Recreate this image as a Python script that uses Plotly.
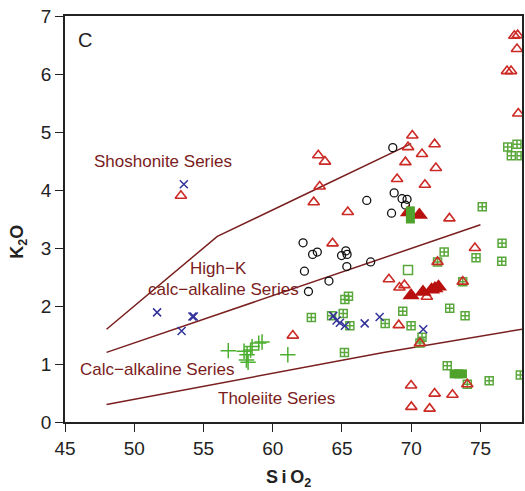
import plotly.graph_objects as go

# ---- data (SiO2 wt%, K2O wt%) ----
tri_open_x = [77.45, 77.69, 77.64, 76.92, 77.21, 77.73, 70.08, 69.77, 71.69, 70.78, 69.58, 71.78,
              68.98, 70.99, 63.29, 63.77, 63.39, 62.96, 65.42, 72.76, 74.6, 71.9, 64.32, 68.39,
              69.15, 69.51, 71.13, 73.72, 61.45, 69.1, 70.63, 74.05, 69.99, 71.69, 72.98, 70.01,
              71.33, 53.37]
tri_open_y = [6.66, 6.67, 6.43, 6.05, 6.05, 5.32, 4.94, 4.74, 4.79, 4.62, 4.48, 4.38,
              4.19, 4.09, 4.60, 4.49, 4.06, 3.79, 3.62, 3.51, 3.0, 2.76, 3.08, 2.46,
              2.32, 2.36, 2.16, 2.42, 1.49, 1.67, 1.36, 0.65, 0.63, 0.49, 0.47, 0.26,
              0.23, 3.90]

circle_x = [68.67, 68.77, 66.79, 69.34, 69.70, 69.58, 68.58, 62.19, 62.88, 63.22, 64.97, 65.28,
            65.37, 67.07, 62.29, 65.35, 64.06, 62.58]
circle_y = [4.73, 3.95, 3.82, 3.85, 3.84, 3.74, 3.60, 3.09, 2.89, 2.93, 2.87, 2.95,
            2.89, 2.76, 2.60, 2.68, 2.43, 2.25]

xmark_x = [53.58, 51.65, 54.2, 54.3, 53.42, 64.37, 64.61, 64.85, 65.21, 66.64, 67.72, 70.87]
xmark_y = [4.10, 1.89, 1.82, 1.82, 1.57, 1.83, 1.75, 1.71, 1.66, 1.70, 1.81, 1.60]

plus_x = [56.79, 57.93, 58.15, 58.1, 58.22, 58.51, 58.99, 59.23, 61.09, 58.4]
plus_y = [1.23, 1.22, 1.16, 1.07, 1.03, 1.30, 1.36, 1.38, 1.16, 1.24]

sqx_x = [75.13, 76.97, 77.64, 77.23, 77.93, 76.56, 72.38, 74.68, 76.54, 71.9, 73.72, 65.21,
         65.47, 62.79, 64.25, 65.09, 65.57, 68.12, 69.39, 69.99, 72.78, 73.89, 70.78, 70.63,
         65.18, 72.6, 75.63, 74.05, 77.88]
sqx_y = [3.71, 4.74, 4.79, 4.59, 4.59, 3.08, 2.93, 2.83, 2.77, 2.76, 2.42, 2.11,
         2.17, 1.80, 1.83, 1.87, 1.66, 1.70, 1.91, 1.66, 1.96, 1.83, 1.46, 1.36,
         1.20, 0.97, 0.71, 0.65, 0.81]

sq_open_x = [69.77]
sq_open_y = [2.62]

tri_fill_x = [69.8, 70.59, 69.99, 70.85, 71.47, 71.71, 71.97]
tri_fill_y = [3.61, 3.57, 2.18, 2.24, 2.28, 2.30, 2.33]

sq_fill_x = [69.94, 69.94, 73.1, 73.4, 73.7]
sq_fill_y = [3.64, 3.50, 0.83, 0.83, 0.83]

# boundary lines (Peccerillo & Taylor)
shosh_x = [48, 56, 63, 70]
shosh_y = [1.6, 3.2, 4.0, 4.8]
highk_x = [48, 75]
highk_y = [1.2, 3.4]
calc_x = [48, 68, 78]
calc_y = [0.3, 1.2, 1.6]

label_text = ["Shoshonite Series", "High\u2212K", "calc\u2212alkaline Series",
              "Calc\u2212alkaline Series", "Tholeiite Series"]
label_x = [52.07, 56.08, 56.48, 51.67, 60.28]
label_y = [4.50, 2.64, 2.28, 0.90, 0.41]

LINE_COL = "#7a1f1f"
TXT_COL = "#7a1c1c"
RED = "#cc2a24"
GREEN = "#5aa83c"

fig = go.Figure()
for xs, ys in [(shosh_x, shosh_y), (highk_x, highk_y), (calc_x, calc_y)]:
    fig.add_trace(go.Scatter(x=xs, y=ys, mode="lines",
                             line=dict(color=LINE_COL, width=1.5), hoverinfo="skip"))

fig.add_trace(go.Scatter(x=sqx_x, y=sqx_y, mode="markers",
                         marker=dict(symbol="square-cross-open", size=8, color=GREEN,
                                     line=dict(width=1.5, color=GREEN))))
fig.add_trace(go.Scatter(x=sq_open_x, y=sq_open_y, mode="markers",
                         marker=dict(symbol="square-open", size=9, color=GREEN,
                                     line=dict(width=1.5, color=GREEN))))
fig.add_trace(go.Scatter(x=tri_open_x, y=tri_open_y, mode="markers",
                         marker=dict(symbol="triangle-up-open", size=10, color=RED,
                                     line=dict(width=1.6, color=RED))))
fig.add_trace(go.Scatter(x=circle_x, y=circle_y, mode="markers",
                         marker=dict(symbol="circle-open", size=8, color="#111111",
                                     line=dict(width=1.3, color="#111111"))))
fig.add_trace(go.Scatter(x=xmark_x, y=xmark_y, mode="markers",
                         marker=dict(symbol="x-thin-open", size=8, color="#33339a",
                                     line=dict(width=1.5, color="#33339a"))))
fig.add_trace(go.Scatter(x=plus_x, y=plus_y, mode="markers",
                         marker=dict(symbol="cross-thin-open", size=11, color="#4caf30",
                                     line=dict(width=1.5, color="#4caf30"))))
fig.add_trace(go.Scatter(x=tri_fill_x, y=tri_fill_y, mode="markers",
                         marker=dict(symbol="triangle-up", size=15, color="#b8100f",
                                     line=dict(width=0))))
fig.add_trace(go.Scatter(x=sq_fill_x, y=sq_fill_y, mode="markers",
                         marker=dict(symbol="square", size=9, color="#4fa22c",
                                     line=dict(width=0))))

for t, x, y in zip(label_text, label_x, label_y):
    fig.add_annotation(x=x, y=y, text=t, showarrow=False, xanchor="center", yanchor="middle",
                       font=dict(family="Liberation Sans, Arial", size=17, color=TXT_COL))

fig.add_annotation(x=46.43, y=6.59, text="C", showarrow=False,
                   font=dict(family="Liberation Sans, Arial", size=20, color="#222"))
fig.add_annotation(xref="paper", yref="paper", x=0.49, y=-0.14,
                   text="<b>S\u2009i\u2009O<sub>2</sub></b>",
                   showarrow=False, xanchor="center", yanchor="middle",
                   font=dict(family="Liberation Sans, Arial", size=18, color="#222"))
fig.add_annotation(xref="paper", yref="paper", x=-0.102, y=0.445, text="<b>K<sub>2</sub>O</b>",
                   showarrow=False, textangle=-90, xanchor="center", yanchor="middle",
                   font=dict(family="Liberation Sans, Arial", size=18, color="#222"))

axis_common = dict(showline=True, linecolor="#222", linewidth=1.5, mirror=True,
                   ticks="outside", ticklen=8, tickwidth=1.3, tickcolor="#222",
                   showgrid=False, zeroline=False,
                   tickfont=dict(family="Liberation Sans, Arial", size=19, color="#222"))
fig.update_xaxes(range=[45, 78], tick0=45, dtick=5, **axis_common)
fig.update_yaxes(range=[0, 7], tick0=0, dtick=1, **axis_common)

fig.update_layout(width=525, height=491, showlegend=False,
                  margin=dict(l=65, r=1, t=16, b=69),
                  paper_bgcolor="white", plot_bgcolor="white")

fig.write_html("out.html")
